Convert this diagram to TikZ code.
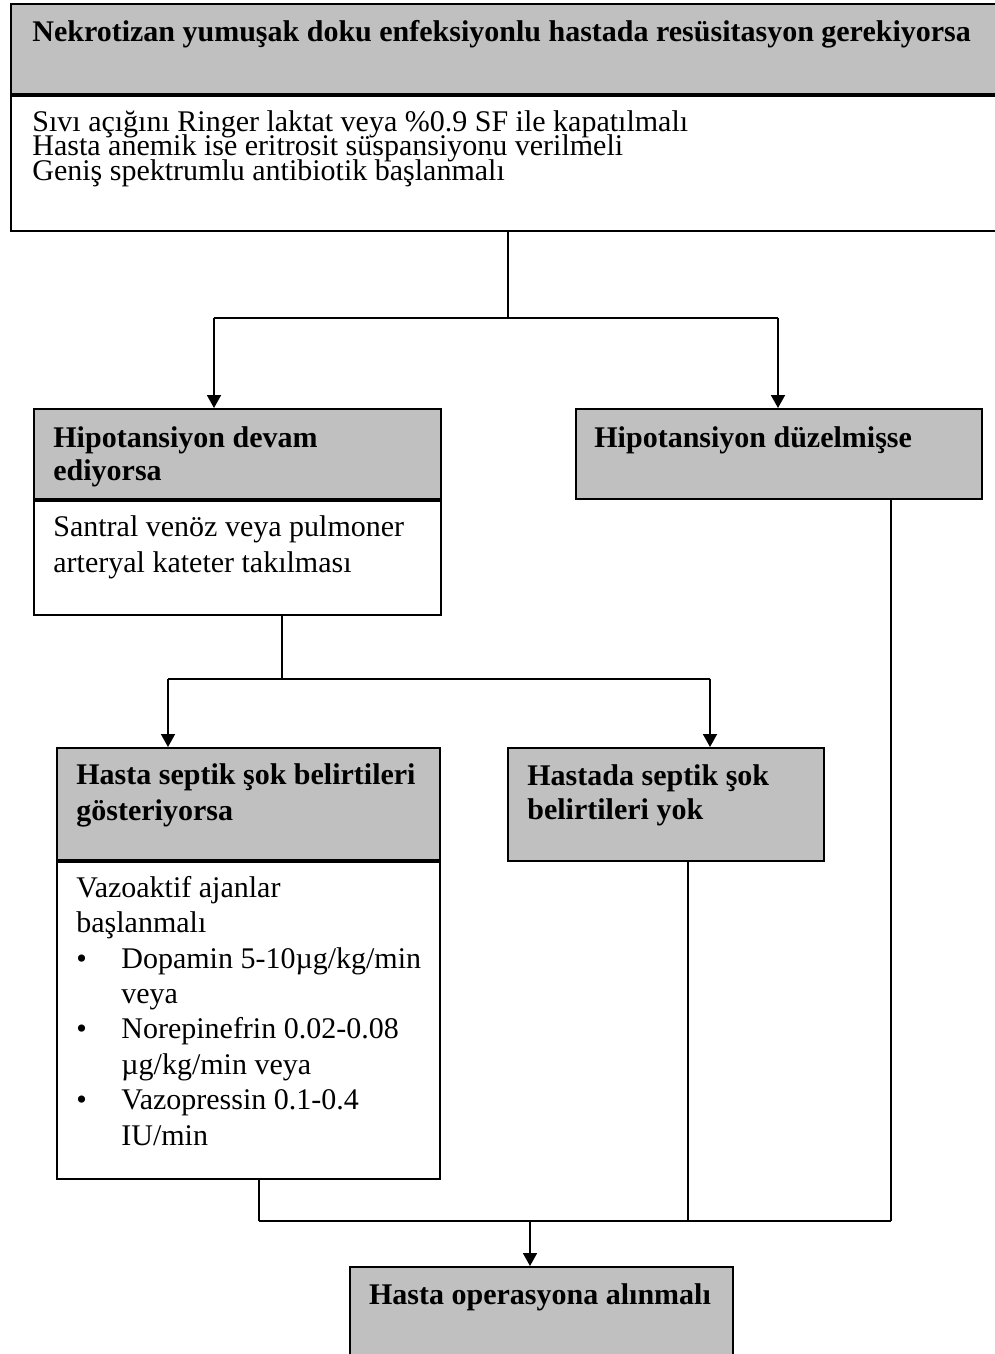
\documentclass[tikz,border=0pt]{standalone}
\usepackage{fontspec}
\setmainfont{Liberation Serif}
\usepackage{xcolor}
\usetikzlibrary{arrows.meta}

\definecolor{boxgrey}{RGB}{192,192,192}
\newcommand{\madde}{\makebox[22.5pt][l]{•}}

\tikzset{
    hdr/.style={draw, line width=1.1pt, fill=boxgrey, anchor=north west, inner sep=0pt},
    body/.style={draw, line width=1.1pt, fill=white, anchor=north west, inner sep=0pt},
    head/.style={anchor=base west, inner sep=0pt, align=left,
        font={\fontsize{15}{17.25}\selectfont\bfseries}},
    txt/.style={anchor=base west, inner sep=0pt, align=left,
        font={\fontsize{15}{17.7}\selectfont}},
    line/.style={line width=0.9pt},
    arr/.style={line width=0.9pt, -{Triangle[length=6.5pt,width=7pt]}},
}

\begin{document}
\begin{tikzpicture}[x=0.5pt, y=-0.5pt]
    \useasboundingbox (0,0) rectangle (995,1354);

    % resuscitation box at the top (text nodes sit on their last baseline)
    \node[hdr, minimum width=497pt, minimum height=45pt] (resus) at (10,3) {};
    \node[body, minimum width=497pt, minimum height=67.5pt] (resusb) at (resus.south west) {};
    \node[head] (resusT) at (32,42) {Nekrotizan yumuşak doku enfeksiyonlu hastada resüsitasyon gerekiyorsa};
    \node[txt, font={\fontsize{15}{12.25}\selectfont\lineskiplimit=-20pt}] (resusB) at (32,180)
        {Sıvı açığını Ringer laktat veya \%0.9 SF ile kapatılmalı\\
         Hasta anemik ise eritrosit süspansiyonu verilmeli\\
         Geniş spektrumlu antibiotik başlanmalı};

    % hypotension boxes
    \node[hdr, minimum width=203.5pt, minimum height=45pt] (hipoL) at (33,408) {};
    \node[body, minimum width=203.5pt, minimum height=57pt] (hipoLb) at (hipoL.south west) {};
    \node[head, font={\fontsize{15}{16.5}\selectfont\bfseries}] (hipoLT) at (53,480) {Hipotansiyon devam\\ediyorsa};
    \node[txt] (hipoLB) at (53,572) {Santral venöz veya pulmoner\\arteryal kateter takılması};

    \node[hdr, minimum width=203pt, minimum height=45pt] (hipoR) at (575,408) {};
    \node[head] (hipoRT) at (594,447) {Hipotansiyon düzelmişse};

    % septic shock boxes
    \node[hdr, minimum width=191.5pt, minimum height=56pt] (septik) at (56,747) {};
    \node[body, minimum width=191.5pt, minimum height=158.5pt] (septikb) at (septik.south west) {};
    \node[head, font={\fontsize{15}{18}\selectfont\bfseries}] (septikT) at (76,820) {Hasta septik şok belirtileri\\gösteriyorsa};
    \node[txt] (septikB) at (76,1145)
        {Vazoaktif ajanlar\\
         başlanmalı\\
         \madde Dopamin 5-10µg/kg/min\\
         \hspace*{22.5pt}veya\\
         \madde Norepinefrin 0.02-0.08\\
         \hspace*{22.5pt}µg/kg/min veya\\
         \madde Vazopressin 0.1-0.4\\
         \hspace*{22.5pt}IU/min};

    \node[hdr, minimum width=158pt, minimum height=56.5pt] (nosep) at (507,747) {};
    \node[head, font={\fontsize{15}{17}\selectfont\bfseries}] (nosepT) at (527,819) {Hastada septik şok\\belirtileri yok};

    % operation box
    \node[hdr, minimum width=191.5pt, minimum height=50pt] (operasyon) at (349,1266) {};
    \node[head, anchor=base] (operasyonT) at (540,1304) {Hasta operasyona alınmalı};

    % connectors
    \coordinate (s1) at (214,318);
    \coordinate (s2) at (778,318);
    \draw[line] (resusb.south) -- (resusb.south |- s1);
    \draw[line] (s1) -- (s2);
    \draw[arr] (s1) -- (s1 |- hipoL.north);
    \draw[arr] (s2) -- (s2 |- hipoR.north);

    \coordinate (s3) at (168,679);
    \coordinate (s4) at (710,679);
    \coordinate (o1) at (282,679);
    \draw[line] (hipoLb.south -| o1) -- (o1);
    \draw[line] (s3) -- (s4);
    \draw[arr] (s3) -- (s3 |- septik.north);
    \draw[arr] (s4) -- (s4 |- nosep.north);

    \coordinate (m1) at (259,1221);
    \coordinate (m2) at (891,1221);
    \coordinate (m3) at (688,1221);
    \coordinate (m0) at (530,1221);
    \draw[line] (septikb.south -| m1) -- (m1);
    \draw[line] (nosep.south -| m3) -- (m3);
    \draw[line] (hipoR.south -| m2) -- (m2);
    \draw[line] (m1) -- (m2);
    \draw[arr] (m0) -- (m0 |- operasyon.north);
\end{tikzpicture}
\end{document}
